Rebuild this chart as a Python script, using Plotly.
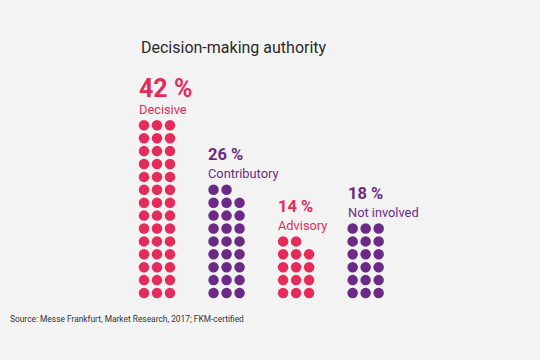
import math
import plotly.graph_objects as go

# ---- data ----
title = "Decision-making authority"
categories = ["Decisive", "Contributory", "Advisory", "Not involved"]
values = [42, 26, 14, 18]
source = "Source: Messe Frankfurt, Market Research, 2017; FKM-certified"

# ---- style ----
PINK = "#e52b5a"
PURPLE = "#6b2a85"
colors = [PINK, PURPLE, PINK, PURPLE]
pct_sizes = [25, 16.5, 16.5, 16.5]
pct_shift = [37, 35, 35, 35]
BG = "#f3f3f3"
FONT = "Roboto, Arial, sans-serif"

W, H = 540, 360
STEP_X = 13.0      # px per dot column
STEP_Y = 12.9      # px per dot row
PER_ROW = 3
GROUP_GAP = 5.35   # dot columns between group starts
X0_PX = 144.0      # pixel position of first dot column
Y0_PX = 293.0      # pixel position of bottom dot row

fig = go.Figure()

for i, (cat, v, col) in enumerate(zip(categories, values, colors)):
    xs, ys = [], []
    for k in range(v):
        r = k // PER_ROW
        c = k % PER_ROW
        xs.append(i * GROUP_GAP + c)
        ys.append(r)
    fig.add_trace(go.Scatter(
        x=xs, y=ys, mode="markers",
        marker=dict(size=10.5, color=col, line=dict(width=0)),
        hoverinfo="skip", showlegend=False,
    ))
    top = math.ceil(v / PER_ROW) - 1
    gx = i * GROUP_GAP - 0.55
    fig.add_annotation(
        x=gx, y=top, xref="x", yref="y", xanchor="left", yanchor="middle",
        yshift=16, showarrow=False, text=cat,
        font=dict(family=FONT, size=12.8, color=col),
    )
    fig.add_annotation(
        x=gx, y=top, xref="x", yref="y", xanchor="left", yanchor="middle",
        yshift=pct_shift[i], showarrow=False, text=f"<b>{v} %</b>",
        font=dict(family=FONT, size=pct_sizes[i], color=col),
    )

fig.add_annotation(
    x=139 / W, y=1 - 48 / H, xref="paper", yref="paper",
    xanchor="left", yanchor="middle", showarrow=False, text=title,
    font=dict(family=FONT, size=16, color="#2a2a2a"),
)
fig.add_annotation(
    x=8 / W, y=1 - 319 / H, xref="paper", yref="paper",
    xanchor="left", yanchor="middle", showarrow=False, text=source,
    font=dict(family=FONT, size=8.4, color="#333333"),
)

x_lo = -X0_PX / STEP_X
x_hi = x_lo + W / STEP_X
y_lo = -(H - Y0_PX) / STEP_Y
y_hi = y_lo + H / STEP_Y

fig.update_layout(
    width=W, height=H,
    margin=dict(l=0, r=0, t=0, b=0),
    paper_bgcolor=BG, plot_bgcolor=BG,
    xaxis=dict(range=[x_lo, x_hi], visible=False, fixedrange=True),
    yaxis=dict(range=[y_lo, y_hi], visible=False, fixedrange=True),
)

fig.write_html(
    "out.html",
    config={"displayModeBar": False},
    post_script="document.body.style.margin='0';document.body.style.overflow='hidden';document.body.style.background='" + BG + "';",
)
